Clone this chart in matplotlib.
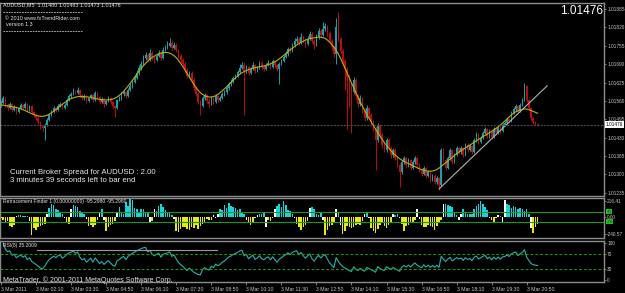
import numpy as np
import pandas as pd
import matplotlib
matplotlib.use("Agg")
import matplotlib.pyplot as plt
from matplotlib.lines import Line2D

# precios en puntos sobre 1.01000 (AUDUSD M5, 3 Mar 2011)
BASE = 1.01
OPEN_FIRST = 545
CLOSE_PTS = [
    553, 570, 546, 535, 549, 528, 539, 521, 535, 546,
    535, 549, 528, 542, 521, 510, 500, 486, 471, 464,
    475, 493, 510, 521, 535, 528, 542, 549, 535, 546,
    563, 577, 584, 595, 588, 599, 581, 570, 577, 560,
    570, 581, 563, 588, 574, 556, 567, 549, 560, 570,
    556, 542, 535, 563, 570, 584, 591, 577, 599, 613,
    627, 641, 659, 677, 691, 712, 722, 705, 730, 712,
    705, 719, 730, 712, 740, 747, 754, 765, 747, 758,
    740, 719, 705, 691, 669, 648, 659, 634, 606, 585,
    556, 542, 570, 581, 560, 549, 570, 556, 577, 563,
    570, 584, 591, 606, 620, 627, 641, 648, 662, 677,
    687, 666, 680, 659, 673, 687, 666, 677, 694, 680,
    673, 687, 694, 680, 701, 687, 673, 691, 701, 715,
    726, 744, 737, 758, 772, 779, 765, 786, 772, 761,
    779, 797, 772, 758, 786, 807, 793, 814, 825, 800,
    772, 751, 726, 821, 779, 737, 701, 673, 645, 616,
    591, 634, 577, 549, 570, 528, 500, 535, 510, 486,
    464, 422, 475, 440, 405, 387, 422, 394, 369, 387,
    358, 334, 309, 344, 358, 334, 351, 323, 344, 358,
    334, 316, 302, 323, 295, 309, 281, 295, 274, 288,
    263, 387, 351, 323, 358, 387, 344, 369, 394, 380,
    394, 369, 405, 387, 401, 380, 422, 440, 415, 429,
    447, 461, 436, 454, 433, 461, 447, 468, 454, 475,
    482, 496, 489, 517, 531, 542, 524, 546, 563, 613,
    563, 535, 500, 486, 480, 476,
]
HIGH_PTS = [
    562, 578, 574, 551, 556, 553, 545, 543, 540, 553,
    550, 555, 552, 547, 545, 526, 514, 505, 490, 476,
    482, 499, 516, 528, 541, 540, 549, 556, 553, 551,
    569, 583, 591, 606, 600, 609, 603, 585, 583, 581,
    575, 586, 585, 596, 593, 578, 573, 570, 565, 578,
    573, 560, 546, 568, 577, 590, 598, 595, 606, 622,
    634, 650, 668, 686, 700, 722, 733, 728, 744, 737,
    718, 726, 740, 736, 750, 758, 770, 783, 776, 768,
    763, 745, 726, 712, 697, 675, 666, 664, 640, 612,
    590, 562, 576, 588, 585, 566, 576, 574, 584, 581,
    576, 590, 598, 614, 628, 636, 648, 656, 670, 690,
    698, 699, 688, 685, 680, 698, 692, 684, 702, 700,
    686, 694, 704, 698, 708, 706, 692, 698, 708, 724,
    735, 752, 750, 766, 781, 790, 786, 800, 792, 778,
    788, 808, 802, 778, 795, 818, 814, 839, 835, 830,
    806, 778, 756, 853, 874, 786, 745, 708, 680, 654,
    628, 645, 640, 584, 580, 575, 534, 545, 540, 516,
    492, 470, 482, 480, 446, 412, 430, 428, 400, 395,
    392, 364, 340, 350, 366, 362, 358, 356, 350, 365,
    362, 340, 322, 330, 328, 316, 314, 302, 300, 294,
    292, 394, 392, 356, 364, 394, 390, 376, 402, 398,
    400, 398, 412, 410, 408, 405, 430, 450, 446, 436,
    455, 468, 466, 460, 458, 468, 465, 475, 472, 482,
    490, 502, 500, 525, 538, 550, 546, 552, 570, 624,
    618, 568, 540, 504, 490, 483,
]
LOW_PTS = [
    538, 549, 540, 528, 530, 521, 524, 514, 517, 531,
    530, 532, 522, 525, 515, 503, 494, 478, 462, 455,
    422, 470, 488, 505, 517, 522, 524, 537, 530, 531,
    542, 559, 572, 580, 583, 584, 575, 563, 565, 553,
    556, 566, 556, 560, 568, 549, 551, 540, 545, 556,
    550, 535, 503, 531, 558, 565, 579, 571, 573, 594,
    607, 622, 636, 652, 670, 686, 705, 698, 700, 704,
    694, 700, 714, 705, 708, 735, 742, 749, 740, 742,
    733, 712, 697, 684, 660, 640, 642, 624, 598, 577,
    548, 510, 538, 565, 552, 540, 545, 549, 552, 556,
    558, 566, 578, 586, 600, 614, 622, 636, 643, 657,
    672, 510, 660, 652, 655, 668, 660, 661, 672, 673,
    665, 668, 682, 672, 676, 680, 664, 620, 686, 696,
    710, 720, 730, 733, 752, 766, 757, 760, 764, 752,
    756, 774, 763, 745, 754, 780, 785, 788, 808, 790,
    764, 740, 715, 690, 770, 728, 690, 600, 460, 540,
    447, 585, 568, 540, 542, 518, 490, 494, 500, 474,
    455, 315, 415, 430, 395, 378, 380, 385, 360, 362,
    350, 325, 256, 300, 338, 326, 328, 315, 318, 338,
    328, 308, 294, 297, 287, 290, 273, 276, 266, 268,
    246, 258, 344, 316, 318, 352, 336, 340, 364, 372,
    374, 362, 364, 380, 382, 372, 376, 416, 408, 410,
    424, 442, 428, 430, 426, 430, 440, 442, 446, 450,
    470, 478, 482, 486, 512, 526, 518, 520, 542, 558,
    556, 528, 494, 480, 476, 473,
]
# Retracement Finder (histograma)
RF_VALUES = [
    -20, -50, -70, -60, -130, -150, -120, 15, 25, 20,
    10, 15, 10, -60, -250, -160, -180, -150, -130, -120,
    -100, 40, 120, 170, 160, 110, 90, 70, 40, -20,
    -90, -100, 110, 160, 150, 140, 80, 60, 30, -30,
    -130, -110, -150, -120, -40, 60, 110, -40, -200, -150,
    -120, -100, -60, 50, 130, 60, 40, 200, 150, 240,
    230, 120, 110, 70, 100, 110, 60, 70, -90, -60,
    110, 80, 150, 180, 140, 90, 70, 60, 20, -30,
    -200, -210, -170, -140, -150, -170, -190, -140, -160, -120,
    -170, -130, -100, -80, -30, -50, -40, 20, -20, 30,
    110, 90, 160, 120, 190, 150, 130, 120, 90, 100,
    60, 30, -40, -90, -110, -70, -20, 20, 40, 30,
    50, -140, -40, -60, -20, 110, 150, 170, 140, 220,
    160, 90, 80, 40, -20, -100, -140, -190, -150, -110,
    -60, 120, 130, 100, 40, 20, 60, -40, -250, -180,
    -130, -110, -90, 110, 50, -120, -240, -200, -130, -150,
    -160, -140, -120, -100, -110, -60, 30, 60, -20, -160,
    -200, -230, -170, -120, -80, -130, -160, -110, -90, 30,
    20, 40, -20, -100, -200, -130, -110, -90, -70, -40,
    110, -30, -120, -150, -140, -110, -130, -150, -190, -130,
    -90, -40, 170, 180, 160, 150, 130, 60, 20, -50,
    30, 110, 60, 40, 30, 40, 100, 150, 170, 210,
    170, 140, 90, -20, -40, -80, -20, 20, 10, -80,
    230, 170, 160, 120, 150, 130, 110, 120, 100, 80,
    110, 40, -160, -230, -150, -95.298,
]
TREND_BARS = [200, 249.3]
TREND_PTS = [249, 613]
PRICE_TICKS = [1.01885, 1.01820, 1.01755, 1.01690, 1.01625, 1.01560,
               1.01495, 1.01430, 1.01365, 1.01300, 1.01235]
LAST_PRICE = 1.01476
TIME_LABELS = ["3 Mar 2011", "3 Mar 02:10", "3 Mar 03:30", "3 Mar 04:50",
               "3 Mar 06:10", "3 Mar 07:30", "3 Mar 08:50", "3 Mar 10:10",
               "3 Mar 11:30", "3 Mar 12:50", "3 Mar 14:10", "3 Mar 15:30",
               "3 Mar 16:50", "3 Mar 18:10", "3 Mar 19:30", "3 Mar 20:50"]
LABEL_STEP = 16
RF_TICKS = [216.41, 0.0, -240.57]
RF_LEVELS = [70, -70]
RSI_TICKS = [100, 70, 30, 0]
RSI_LEVELS = [70, 30]
RSI_PERIOD = 8
MA_HALF = 10

W, H = 625, 293
GRID = "#8c8c8c"
TXT = "#e8e8e8"
UP, DOWN = "#1c9fa8", "#c00c0c"
SMALL = ["Liberation Sans Narrow", "Liberation Sans", "DejaVu Sans"]
LABEL = ["Liberation Sans", "DejaVu Sans"]
RSIZE = 3.4


def fx(px):
    return px / W


def fy(py):
    return 1 - py / H


def centered_ma(v, half):
    # media triangular centrada (como el indicador del grafico)
    w = np.concatenate([np.arange(1, half + 2), np.arange(half, 0, -1)]).astype(float)
    out = np.empty(len(v))
    for i in range(len(v)):
        lo, hi = max(0, i - half), min(len(v), i + half + 1)
        ww = w[lo - (i - half): hi - (i - half)]
        out[i] = np.dot(v[lo:hi], ww) / ww.sum()
    return out


close = BASE + np.array(CLOSE_PTS) / 1e5
high = BASE + np.array(HIGH_PTS) / 1e5
low = BASE + np.array(LOW_PTS) / 1e5
open_ = np.concatenate([[BASE + OPEN_FIRST / 1e5], close[:-1]])
x = np.arange(len(close))
ma = centered_ma(close, MA_HALF)

d = pd.Series(close).diff()
g = d.clip(lower=0).ewm(alpha=1 / RSI_PERIOD, adjust=False).mean()
l = (-d).clip(lower=0).ewm(alpha=1 / RSI_PERIOD, adjust=False).mean()
rsi = (100 - 100 / (1 + g / l)).values

fig = plt.figure(figsize=(W / 100, H / 100), dpi=100)
fig.patch.set_facecolor("black")

ax = fig.add_axes([0, fy(196), fx(604), 193 / H])
ax_rf = fig.add_axes([0, fy(238), fx(604), 40 / H], sharex=ax)
ax_rsi = fig.add_axes([0, fy(282), fx(604), 41 / H], sharex=ax)

for a in (ax, ax_rf, ax_rsi):
    a.set_facecolor("black")
    for s in a.spines.values():
        s.set_color(GRID)
        s.set_linewidth(1)
    a.yaxis.tick_right()
    a.tick_params(axis="y", colors=GRID, labelcolor="#c8c8c8", labelsize=RSIZE,
                  length=1.5, width=0.6, pad=0.8)
    a.tick_params(axis="x", bottom=False, labelbottom=False)

# velas
up = close >= open_
cols = np.where(up, UP, DOWN)
ax.vlines(x, low, high, colors=cols, lw=0.7)
body = np.maximum(np.abs(close - open_), 0.000012)
ax.bar(x, body, bottom=np.minimum(open_, close), width=0.7, color=cols, linewidth=0)
ax.plot(x, ma, color="#bfae0c", lw=0.8)
ax.plot(TREND_BARS, BASE + np.array(TREND_PTS) / 1e5, color="#b4b4b4", lw=0.8)
ax.axhline(LAST_PRICE, color="#4a4a4a", lw=0.8, ls=(0, (2, 1)))
ax.set_xlim(-0.46, 275.3)
ax.set_ylim(1.01224, 1.01906)
ax.set_yticks(PRICE_TICKS)
ax.set_yticklabels([f"{p:.5f}" for p in PRICE_TICKS], family=SMALL)
ax.text(1.003, LAST_PRICE, f"{LAST_PRICE:.5f}", transform=ax.get_yaxis_transform(),
        fontsize=RSIZE, family=SMALL, color="black", va="center", ha="left",
        bbox=dict(boxstyle="square,pad=0.15", fc="white", ec="none"))

# Retracement Finder
rf = np.array(RF_VALUES, dtype=float)
sg = np.sign(rf)
change = np.concatenate([[False], sg[1:] != sg[:-1]])
rf_cols = np.where(change, "white", np.where(rf > 0, "#18d2dc", "#e8e812"))
ax_rf.bar(x, rf, width=0.7, color=rf_cols, linewidth=0)
for lv in RF_LEVELS:
    ax_rf.axhline(lv, color="#1a9a1a", lw=0.8)
ax_rf.set_ylim(-296, 258)
ax_rf.set_yticks(RF_TICKS)
ax_rf.set_yticklabels([f"{v:.2f}" for v in RF_TICKS], family=SMALL)
for lv in RF_LEVELS:
    ax_rf.text(1.004, lv, f"{lv}", transform=ax_rf.get_yaxis_transform(),
               fontsize=3.2, family=SMALL, color="#0a4a0a", va="center", ha="left",
               bbox=dict(boxstyle="square,pad=0.1", fc="#22c022", ec="none"))

# RSI
ax_rsi.plot(x, rsi, color="#22b4b0", lw=0.8)
for lv in RSI_LEVELS:
    ax_rsi.axhline(lv, color="#10a010", lw=0.7, ls=(0, (3, 2)))
ax_rsi.axhline(82.4, xmin=37 / 604, xmax=217 / 604, color="#9a9a9a", lw=0.8)
ax_rsi.set_ylim(-5.4, 105.4)
ax_rsi.set_yticks(RSI_TICKS)
ax_rsi.set_yticklabels([str(v) for v in RSI_TICKS], family=SMALL)
ax_rsi.set_xticks(np.arange(len(TIME_LABELS)) * LABEL_STEP)
ax_rsi.set_xticklabels(TIME_LABELS, ha="left", family=LABEL)
ax_rsi.tick_params(axis="x", bottom=True, labelbottom=True, colors=GRID,
                   labelcolor="#c8c8c8", labelsize=3.7, length=2.5, width=0.6, pad=1)

# textos
fig.text(fx(3), fy(5), "AUDUSD,M5  1.01480 1.01483 1.01473 1.01476",
         fontsize=3.9, family=LABEL, color=TXT, va="center")
fig.text(fx(5), fy(18), "\u00a9 2010 www.fxTrendRider.com", fontsize=3.9,
         family=LABEL, color=TXT, va="center")
fig.text(fx(6), fy(25), "version 1.3", fontsize=3.9, family=LABEL, color=TXT, va="center")
for yy in (12, 31):
    fig.add_artist(Line2D([fx(3), fx(82)], [fy(yy)] * 2, color="#c8c8c8",
                          lw=0.6, ls=(0, (2, 1.2))))
fig.text(fx(603), fy(11), f"{LAST_PRICE:.5f}", fontsize=8.5, family=LABEL,
         color="white", ha="right", va="center")
fig.text(fx(10), fy(172), f"Current Broker Spread for AUDUSD : {2.00:.2f}",
         fontsize=5.6, family=LABEL, color=TXT, va="center")
fig.text(fx(10), fy(181), "3 minutes 39 seconds left to bar end",
         fontsize=5.6, family=LABEL, color=TXT, va="center")
fig.text(fx(3), fy(202), "Retracement Finder 1 (0.00000000) -95.2980 -95.2980",
         fontsize=3.6, family=LABEL, color=TXT, va="center")
fig.text(fx(3), fy(245.5), f"RSI({RSI_PERIOD}) 35.2009", fontsize=3.6,
         family=LABEL, color=TXT, va="center")
fig.text(fx(3), fy(280), "MetaTrader, \u00a9 2001-2011 MetaQuotes Software Corp.",
         fontsize=5.0, family=LABEL, color=TXT, va="center")

fig.savefig("out.png", dpi=100, facecolor="black")
